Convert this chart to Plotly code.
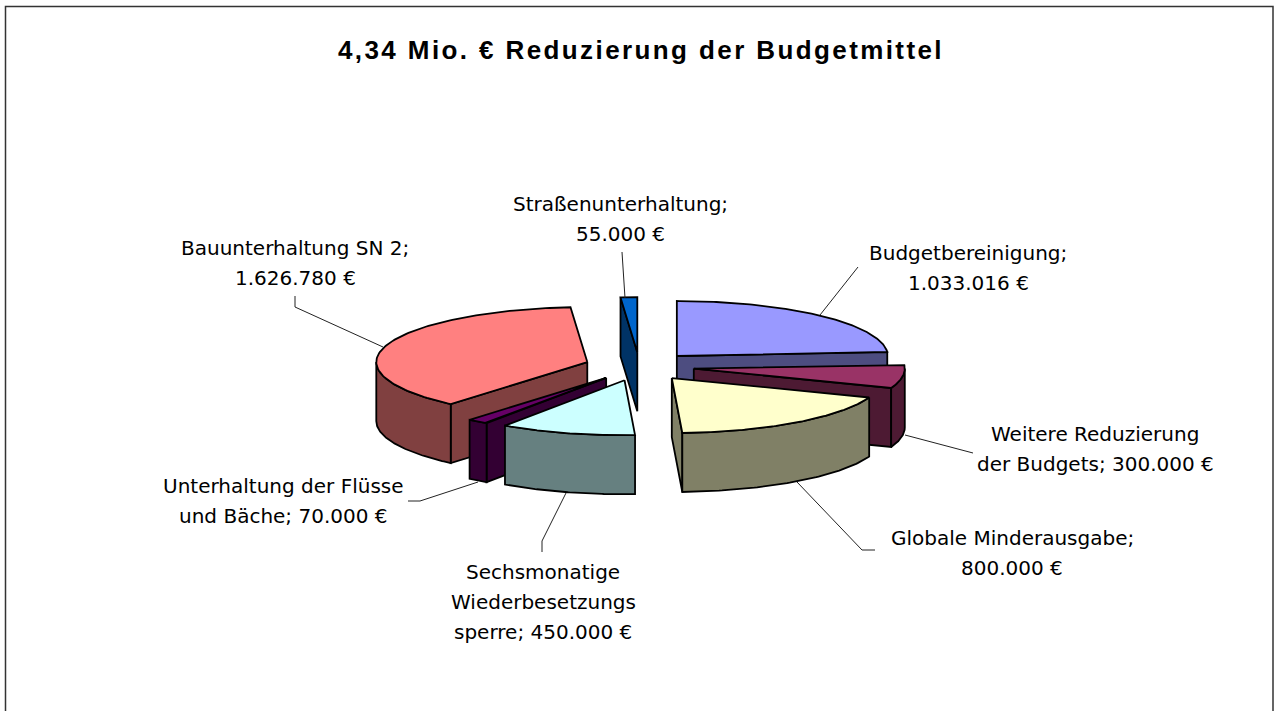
import numpy as np
import plotly.graph_objects as go

categories = ["Budgetbereinigung", "Weitere Reduzierung der Budgets", "Globale Minderausgabe",
              "Sechsmonatige Wiederbesetzungssperre", "Unterhaltung der Flüsse und Bäche",
              "Bauunterhaltung SN 2", "Straßenunterhaltung"]
values = [1033016, 300000, 800000, 450000, 70000, 1626780, 55000]
top_colors = ["#9999FF", "#993366", "#FFFFCC", "#CCFFFF", "#660066", "#FF8080", "#0066CC"]
side_colors = ["#4D4D80", "#4D1A33", "#808066", "#668080", "#330033", "#804040", "#003366"]
label_lines = [["Budgetbereinigung;", "1.033.016 €"],
               ["Weitere Reduzierung", "der Budgets; 300.000 €"],
               ["Globale Minderausgabe;", "800.000 €"],
               ["Sechsmonatige", "Wiederbesetzungs", "sperre; 450.000 €"],
               ["Unterhaltung der Flüsse", "und Bäche; 70.000 €"],
               ["Bauunterhaltung SN 2;", "1.626.780 €"],
               ["Straßenunterhaltung;", "55.000 €"]]
label_pos = [(968, 253), (1095, 434), (1012, 538), (543, 572), (283, 486), (295, 248), (620, 204)]
leaders = ["M858,267 L820,315", "M905,435 L973,453", "M797,482 L862,550 L875,550",
           "M566,493 L542,541 L542,552", "M478,482 L420,501 L408,501",
           "M383,347 L295,307 L295,296", "M622,252 L625,298"]
draw_order = [0, 5, 1, 4, 3, 6, 2]

title = "4,34 Mio. € Reduzierung der Budgetmittel"
CX, CY, RX, RY, H, EXPLODE = 639.5, 366.5, 211, 55, 59, 0.26
FONT = "DejaVu Sans"
LINE_GAP = 30

vals = np.array(values, float)
edges = np.concatenate([[0], np.cumsum(vals) / vals.sum() * 2 * np.pi])


def rim(a):
    return RX * np.sin(a), -RY * np.cos(a)


def poly(fig, xs, ys, color, name):
    fig.add_trace(go.Scatter(x=list(xs) + [xs[0]], y=list(ys) + [ys[0]], mode="lines", fill="toself",
                             fillcolor=color, line=dict(color="#000000", width=1.8),
                             name=name, hoverinfo="name", showlegend=False))


fig = go.Figure()
for i in draw_order:
    a0, a1 = edges[i], edges[i + 1]
    mid = (a0 + a1) / 2
    mx, my = rim(mid)
    tx, ty = CX + EXPLODE * mx, CY + EXPLODE * my
    # cut faces: only those turned towards the viewer
    for a in (a0, a1):
        rx, ry = rim(a)
        if rx * (rx * my - ry * mx) < 0:
            poly(fig, [tx, tx + rx, tx + rx, tx], [ty, ty + ry, ty + ry + H, ty + H], side_colors[i], categories[i])
    # outer wall (front half only)
    w0, w1 = max(a0, np.pi / 2), min(a1, 3 * np.pi / 2)
    if w1 > w0:
        t = np.linspace(w0, w1, 80)
        rx, ry = rim(t)
        xs = np.concatenate([tx + rx, (tx + rx)[::-1]])
        ys = np.concatenate([ty + ry, (ty + ry + H)[::-1]])
        poly(fig, xs, ys, side_colors[i], categories[i])
    # top face
    t = np.linspace(a0, a1, 120)
    rx, ry = rim(t)
    poly(fig, np.concatenate([[tx], tx + rx]), np.concatenate([[ty], ty + ry]), top_colors[i], categories[i])

shapes = [dict(type="path", path=p, line=dict(color="#222222", width=1), xref="x", yref="y") for p in leaders]
shapes.append(dict(type="path", path="M5.5,730 L5.5,6.5 L1273,6.5 L1273,730",
                   line=dict(color="#333333", width=1.5), xref="x", yref="y"))

annotations = []
for lines, p in zip(label_lines, label_pos):
    for k, s in enumerate(lines):
        annotations.append(dict(x=p[0], y=p[1] + k * LINE_GAP, text=s, showarrow=False, xanchor="center",
                                yanchor="middle", font=dict(family=FONT, size=20, color="#000000")))
annotations.append(dict(x=641, y=49.5, text="<b>" + title + "</b>", showarrow=False, xanchor="center",
                        yanchor="middle", font=dict(family="Liberation Sans", size=26, color="#000000")))

fig.update_layout(width=1274, height=711, autosize=False, margin=dict(l=0, r=0, t=0, b=0),
                  paper_bgcolor="white", plot_bgcolor="white", shapes=shapes, annotations=annotations,
                  xaxis=dict(range=[0, 1274], visible=False, fixedrange=True),
                  yaxis=dict(range=[711, 0], visible=False, fixedrange=True))
fig.write_html("out.html", config=dict(displayModeBar=False),
               post_script="document.body.style.margin='0';document.body.style.overflow='hidden';"
                           "var a=document.querySelectorAll('.annotation-text');"
                           "a[a.length-1].style.letterSpacing='2.4px';")
